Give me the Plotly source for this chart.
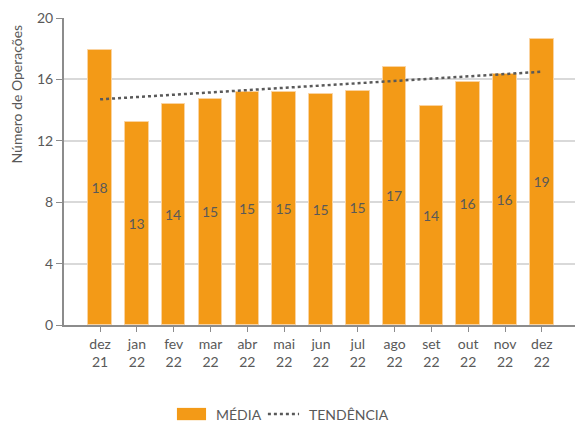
import plotly.graph_objects as go

# Monthly average number of operations
months = ["dez<br>21", "jan<br>22", "fev<br>22", "mar<br>22", "abr<br>22", "mai<br>22",
          "jun<br>22", "jul<br>22", "ago<br>22", "set<br>22", "out<br>22", "nov<br>22", "dez<br>22"]
media = [17.9, 13.2, 14.4, 14.75, 15.2, 15.2, 15.05, 15.25, 16.8, 14.3, 15.8, 16.35, 18.6]

# Linear trend, start and end values
trend_ends = [14.7, 16.5]

y_ticks = [0, 4, 8, 12, 16, 20]

BAR = "#F39A17"
TXT = "#595959"
FONT = "Lato"

fig = go.Figure()

fig.add_trace(go.Bar(
    x=list(range(len(months))), y=media, width=0.64,
    marker=dict(color=BAR, line=dict(color="#FAD3A0", width=1)),
    text=media, texttemplate="%{text:.0f}",
    textposition="inside", insidetextanchor="middle",
    textfont=dict(color=TXT, size=14, family=FONT),
    showlegend=False, hoverinfo="skip",
))

fig.add_trace(go.Scatter(
    x=[0, len(months) - 1], y=trend_ends, mode="lines",
    line=dict(color="#595959", width=2.5, dash="dot"),
    showlegend=False, hoverinfo="skip",
))

fig.update_layout(
    width=579, height=423,
    margin=dict(l=64, r=4, t=18, b=98),
    paper_bgcolor="white", plot_bgcolor="white",
    font=dict(family=FONT, color=TXT, size=13),
    bargap=0,
)

fig.update_xaxes(
    range=[-0.98, 12.9],
    tickmode="array", tickvals=list(range(len(months))), ticktext=months,
    ticks="outside", ticklen=5, tickcolor="#8c8c8c", tickwidth=1,
    showline=True, linecolor="#8c8c8c", linewidth=2,
    showgrid=False, zeroline=False,
    tickfont=dict(size=14, color=TXT, family=FONT),
)

fig.update_yaxes(
    range=[0, 20], tickvals=y_ticks,
    ticks="outside", ticklen=6, tickcolor="#8c8c8c", tickwidth=1,
    showline=True, linecolor="#8c8c8c", linewidth=2,
    showgrid=True, gridcolor="#d9d9d9", gridwidth=2, zeroline=False,
    tickfont=dict(size=14, color=TXT, family=FONT),
)

# Axis title, aligned towards the top of the plot
fig.add_annotation(xref="paper", yref="paper", x=-0.092, y=0.987,
                   text="Número de Operações", textangle=-90, showarrow=False,
                   xanchor="center", yanchor="top",
                   font=dict(size=14, color=TXT, family=FONT))

# Legend drawn below the plot area
fig.add_shape(type="rect", xref="paper", yref="paper",
              x0=0.221, x1=0.278, y0=-0.31, y1=-0.27,
              fillcolor=BAR, line=dict(width=0))
fig.add_annotation(xref="paper", yref="paper", x=0.2935, y=-0.29, text="MÉDIA",
                   showarrow=False, xanchor="left", yanchor="middle",
                   font=dict(size=14, color=TXT, family=FONT))
fig.add_shape(type="line", xref="paper", yref="paper",
              x0=0.399, x1=0.460, y0=-0.29, y1=-0.29,
              line=dict(color="#595959", width=2.5, dash="dot"))
fig.add_annotation(xref="paper", yref="paper", x=0.4755, y=-0.29, text="TENDÊNCIA",
                   showarrow=False, xanchor="left", yanchor="middle",
                   font=dict(size=14, color=TXT, family=FONT))

fig.write_html("out.html")
